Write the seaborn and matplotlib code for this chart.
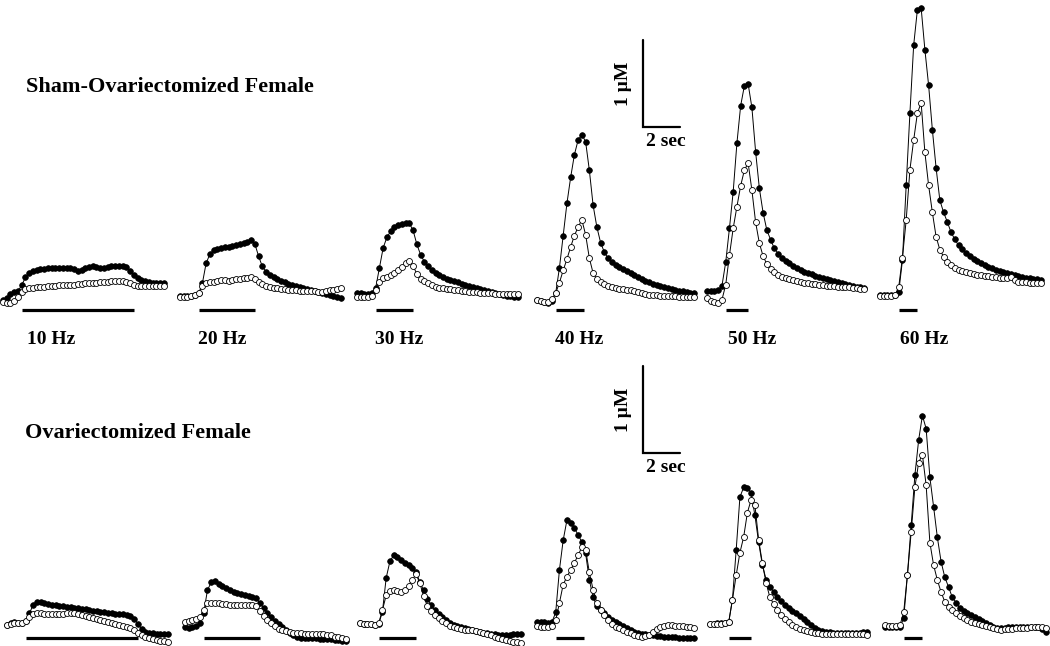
import numpy as np
import matplotlib
matplotlib.use("Agg")
import matplotlib.pyplot as plt
import seaborn as sns

# ==========================
# DATA (uM, one sample every 0.2 s)
# ==========================

freq_labels = ["10 Hz", "20 Hz", "30 Hz", "40 Hz", "50 Hz", "60 Hz"]
stim_dur = [6.0, 3.0, 2.0, 1.5, 1.2, 1.0]   # seconds
stim_onset = 1.0
dt = 0.2

sham_10_filled = [0, .02, .07, .09, .10, .17, .26, .31, .33, .34, .36, .36, .37, .37, .37, .37, .37, .37, .37, .36, .33, .34, .37, .38, .39, .38, .37, .37, .38, .39, .39, .39, .39, .38, .33, .29, .25, .23, .22, .21, .20, .20, .20, .20]
sham_10_open = [-.02, -.03, -.03, -.01, .03, .09, .13, .14, .14, .15, .15, .15, .16, .16, .16, .17, .17, .17, .17, .17, .18, .18, .20, .20, .20, .20, .21, .21, .21, .22, .22, .22, .22, .21, .20, .17, .16, .16, .16, .16, .16, .16, .16, .16]
sham_20_filled = [0, 0, 0, 0, .01, .03, .15, .38, .48, .53, .54, .55, .56, .56, .57, .59, .60, .61, .62, .64, .60, .46, .34, .28, .24, .22, .20, .17, .16, .14, .13, .11, .10, .09, .08, .07, .06, .05, .03, .02, .01, 0, -.01, -.02]
sham_20_open = [-.01, -.01, -.01, 0, .01, .03, .11, .15, .16, .16, .17, .18, .18, .17, .18, .20, .20, .21, .21, .22, .20, .16, .14, .11, .10, .09, .09, .08, .08, .07, .07, .07, .06, .06, .06, .06, .06, .05, .05, .06, .07, .07, .08, .09]
sham_30_filled = [0, 0, -.01, -.01, 0, .06, .29, .52, .64, .71, .76, .78, .79, .80, .80, .72, .56, .44, .36, .31, .26, .23, .21, .18, .16, .15, .14, .13, .10, .09, .08, .07, .06, .05, .03, .02, .01, 0, -.01, -.02, -.03, -.03, -.05, -.05]
sham_30_open = [-.05, -.05, -.05, -.05, -.03, .03, .13, .17, .18, .21, .23, .26, .30, .34, .37, .31, .22, .16, .14, .11, .09, .07, .06, .06, .05, .05, .03, .03, .02, .02, .01, .01, .01, 0, 0, 0, 0, -.01, -.01, -.01, -.01, -.01, -.01, -.01]
sham_40_filled = [0, -.01, -.02, -.03, -.01, .08, .37, .74, 1.11, 1.41, 1.67, 1.84, 1.90, 1.82, 1.49, 1.09, .84, .66, .55, .48, .44, .40, .38, .36, .33, .31, .29, .26, .24, .22, .21, .18, .17, .16, .15, .14, .13, .11, .10, .10, .09, .08, .08]
sham_40_open = [0, -.01, -.02, -.02, .01, .08, .20, .34, .47, .61, .74, .84, .92, .75, .48, .31, .24, .21, .18, .16, .15, .14, .13, .13, .11, .11, .10, .09, .08, .07, .06, .06, .06, .05, .05, .05, .05, .05, .03, .03, .03, .03, .03]
sham_50_filled = [0, 0, 0, .01, .06, .33, .72, 1.14, 1.70, 2.13, 2.36, 2.38, 2.11, 1.60, 1.18, .90, .70, .59, .49, .43, .38, .34, .32, .29, .26, .24, .22, .21, .20, .17, .16, .15, .14, .13, .11, .10, .09, .08, .07, .06, .05, .05, .03]
sham_50_open = [-.08, -.11, -.13, -.14, -.10, .07, .41, .72, .97, 1.21, 1.39, 1.47, 1.16, .79, .55, .40, .31, .25, .22, .18, .16, .15, .14, .13, .11, .10, .09, .09, .08, .08, .07, .07, .06, .06, .06, .05, .05, .05, .05, .03, .03, .02, .02]
sham_60_filled = [0, 0, 0, 0, 0, .03, .40, 1.26, 2.09, 2.87, 3.28, 3.30, 2.82, 2.41, 1.90, 1.46, 1.09, .95, .84, .72, .64, .57, .53, .48, .45, .41, .39, .37, .34, .32, .31, .29, .28, .26, .25, .24, .23, .22, .21, .20, .20, .18, .18, .17]
sham_60_open = [-.01, -.01, -.01, -.01, 0, .09, .43, .86, 1.44, 1.78, 2.09, 2.21, 1.64, 1.26, .95, .67, .52, .44, .38, .34, .31, .29, .28, .26, .25, .24, .23, .23, .22, .22, .21, .21, .20, .20, .20, .21, .17, .15, .15, .15, .14, .14, .14, .14]

ovx_10_filled = [-.02, 0, .01, 0, 0, .02, .11, .21, .24, .24, .23, .22, .21, .21, .20, .20, .18, .18, .17, .17, .16, .16, .15, .14, .14, .13, .13, .11, .11, .10, .10, .10, .09, .08, .05, -.01, -.07, -.10, -.11, -.11, -.13, -.13, -.13, -.13]
ovx_10_open = [-.02, -.01, 0, 0, 0, .02, .07, .10, .11, .11, .10, .10, .10, .10, .10, .10, .11, .11, .11, .10, .09, .08, .07, .06, .05, .03, .02, .01, 0, -.01, -.02, -.03, -.05, -.06, -.08, -.11, -.14, -.16, -.17, -.18, -.20, -.21, -.21, -.22]
ovx_20_filled = [-.02, -.03, -.02, -.01, .02, .14, .40, .49, .51, .47, .45, .43, .40, .38, .37, .36, .34, .33, .32, .31, .25, .20, .14, .09, .05, .01, -.02, -.06, -.09, -.11, -.14, -.15, -.15, -.15, -.15, -.15, -.16, -.16, -.16, -.16, -.17, -.17, -.18, -.18]
ovx_20_open = [.03, .05, .06, .07, .09, .17, .25, .25, .25, .25, .24, .24, .23, .23, .23, .23, .23, .23, .23, .22, .16, .10, .06, .02, -.01, -.05, -.06, -.07, -.08, -.09, -.09, -.09, -.10, -.10, -.10, -.10, -.10, -.10, -.11, -.11, -.14, -.14, -.15, -.16]
ovx_30_filled = [.01, 0, 0, 0, -.01, 0, .14, .53, .72, .79, .77, .74, .70, .68, .64, .60, .48, .39, .29, .22, .16, .11, .08, .05, .01, -.01, -.02, -.03, -.05, -.06, -.07, -.08, -.09, -.10, -.10, -.11, -.11, -.13, -.13, -.13, -.13, -.11, -.11, -.11]
ovx_30_open = [.01, 0, 0, 0, -.01, .01, .16, .33, .38, .39, .38, .37, .39, .44, .51, .57, .47, .32, .21, .15, .10, .07, .03, .01, -.02, -.03, -.05, -.06, -.07, -.07, -.07, -.08, -.09, -.10, -.11, -.13, -.15, -.16, -.17, -.18, -.20, -.21, -.21, -.22]
ovx_40_filled = [0, 0, 0, -.01, 0, .11, .60, .94, 1.17, 1.14, 1.08, 1.00, .92, .79, .48, .29, .18, .14, .10, .06, .02, 0, -.02, -.05, -.07, -.09, -.11, -.13, -.14, -.14, -.15, -.15, -.16, -.16, -.17, -.17, -.17, -.17, -.18, -.18, -.18, -.18, -.18]
ovx_40_open = [-.05, -.06, -.06, -.06, -.05, .02, .22, .43, .52, .60, .68, .77, .86, .83, .57, .37, .22, .14, .08, .02, -.02, -.06, -.07, -.09, -.11, -.13, -.15, -.16, -.17, -.16, -.15, -.11, -.08, -.06, -.05, -.03, -.03, -.05, -.05, -.05, -.06, -.06, -.07]
ovx_50_filled = [0, 0, .01, .01, .01, .02, .28, .85, 1.46, 1.57, 1.56, 1.51, 1.25, .94, .68, .51, .43, .37, .31, .26, .22, .18, .15, .13, .09, .06, .02, -.01, -.05, -.07, -.08, -.09, -.09, -.10, -.10, -.10, -.10, -.10, -.10, -.10, -.10, -.09, -.09]
ovx_50_open = [0, 0, 0, 0, .01, .02, .28, .56, .82, 1.00, 1.28, 1.43, 1.37, .97, .70, .47, .31, .23, .16, .10, .06, .02, -.01, -.03, -.06, -.07, -.08, -.09, -.10, -.10, -.11, -.11, -.11, -.11, -.11, -.11, -.11, -.11, -.11, -.11, -.11, -.11, -.13]
ovx_60_filled = [0, 0, 0, 0, 0, .10, .60, 1.17, 1.75, 2.15, 2.43, 2.28, 1.72, 1.38, 1.03, .75, .57, .46, .34, .28, .22, .18, .16, .14, .11, .09, .07, .05, .02, 0, -.01, -.01, -.01, 0, 0, 0, 0, 0, 0, 0, 0, 0, -.02, -.06]
ovx_60_open = [.02, .01, .01, .01, .02, .17, .60, 1.09, 1.61, 1.89, 1.98, 1.63, .97, .71, .54, .40, .29, .23, .20, .16, .13, .10, .08, .06, .05, .03, .02, .01, 0, -.01, -.02, -.03, -.02, -.02, -.02, -.01, -.01, -.01, -.01, 0, 0, 0, 0, -.01]

# ==========================
# LAYOUT (pixels on the 1050 x 646 figure)
# ==========================

W, H = 1050, 646
PX_S = 18.7     # pixels per second
PX_UM = 87.0    # pixels per uM


def sx(px):
    return px / PX_S


def sy(py):
    return (H - py) / PX_UM


rows = [
    dict(title="Sham-Ovariectomized Female", title_xy=(26, 87),
         filled=[sham_10_filled, sham_20_filled, sham_30_filled,
                 sham_40_filled, sham_50_filled, sham_60_filled],
         opened=[sham_10_open, sham_20_open, sham_30_open,
                 sham_40_open, sham_50_open, sham_60_open],
         x0=[3, 180, 357, 537, 707, 880],
         base=[300, 296, 293, 300, 291, 295],
         stim_y=310, bar_top=40),
    dict(title="Ovariectomized Female", title_xy=(25, 433),
         filled=[ovx_10_filled, ovx_20_filled, ovx_30_filled,
                 ovx_40_filled, ovx_50_filled, ovx_60_filled],
         opened=[ovx_10_open, ovx_20_open, ovx_30_open,
                 ovx_40_open, ovx_50_open, ovx_60_open],
         x0=[7, 185, 360, 537, 710, 885],
         base=[623, 625, 624, 622, 624, 627],
         stim_y=638, bar_top=366),
]

label_x = [27, 198, 375, 555, 728, 900]
label_y = 340

# ==========================
# PLOT
# ==========================

sns.set_style("white")
plt.rcParams["font.family"] = ["Liberation Serif", "DejaVu Serif"]
plt.rcParams["text.color"] = "black"

fig = plt.figure(figsize=(W / 100, H / 100), dpi=100)
ax = fig.add_axes([0, 0, 1, 1])

for row in rows:

    for i in range(6):

        x_off = sx(row["x0"][i])
        y_off = sy(row["base"][i])

        v_f = np.array(row["filled"][i])
        v_o = np.array(row["opened"][i])

        t_f = x_off + np.arange(len(v_f)) * dt
        t_o = x_off + np.arange(len(v_o)) * dt

        sns.lineplot(
            x=t_f, y=y_off + v_f, ax=ax,
            color="black", linewidth=0.7,
            marker="o", markersize=4.1,
            markerfacecolor="black", mec="black", mew=0.5,
            estimator=None, legend=False
        )

        sns.lineplot(
            x=t_o, y=y_off + v_o, ax=ax,
            color="black", linewidth=0.7,
            marker="o", markersize=4.3,
            markerfacecolor="white", mec="black", mew=0.6,
            estimator=None, legend=False
        )

        # stimulus bar
        s0 = x_off + stim_onset
        ax.plot(
            [s0, s0 + stim_dur[i]],
            [sy(row["stim_y"])] * 2,
            color="black", linewidth=2.3, solid_capstyle="butt"
        )

    ax.text(
        sx(row["title_xy"][0]), sy(row["title_xy"][1]),
        row["title"], fontsize=16, fontweight="bold",
        color="black", ha="left", va="center"
    )

    # scale bar: 1 uM, 2 sec
    bx = sx(643)
    by = sy(row["bar_top"])
    ax.plot(
        [bx, bx, bx + 2.0],
        [by, by - 1.0, by - 1.0],
        color="black", linewidth=1.6, solid_joinstyle="miter"
    )
    ax.text(sx(624), by - 0.5, "1 \u00b5M", rotation=90,
            fontsize=14, fontweight="bold", color="black",
            ha="center", va="center")
    ax.text(sx(666), by - 1.0 - 15 / PX_UM, "2 sec",
            fontsize=14, fontweight="bold", color="black",
            ha="center", va="center")

# frequency labels
for i, lab in enumerate(freq_labels):
    ax.text(
        sx(label_x[i]), sy(label_y), lab,
        fontsize=14, fontweight="bold", color="black",
        ha="left", va="center"
    )

ax.set_xlim(0, W / PX_S)
ax.set_ylim(0, H / PX_UM)
ax.axis("off")

fig.savefig("out.png", dpi=100, facecolor="white")
